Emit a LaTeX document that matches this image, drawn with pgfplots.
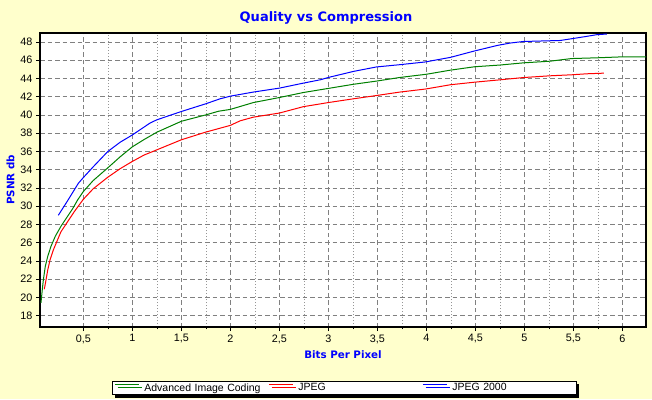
\documentclass[border=0pt]{standalone}
\usepackage{pgfplots}
\pgfplotsset{compat=1.18}
\usepackage{fontspec}
\setmainfont{Liberation Sans}
\newfontfamily\dejavu{DejaVu Sans}
\usetikzlibrary{shadows}
\definecolor{bgyellow}{RGB}{255,255,204}
\definecolor{cblue}{RGB}{0,0,255}
\definecolor{cgreen}{RGB}{0,128,0}
\definecolor{cred}{RGB}{255,0,0}
\definecolor{gridgray}{RGB}{128,128,128}
\definecolor{mingray}{RGB}{150,150,150}
\begin{document}
\begin{tikzpicture}[x=1pt,y=1pt]
\fill[bgyellow] (0,0) rectangle (652,399);
\useasboundingbox (0,0) rectangle (652,399);
\node[font={\dejavu\bfseries\fontsize{13}{15}\selectfont}, text=cblue] at (326,381.5) {Quality vs Compression};
\begin{axis}[
  at={(40pt,72pt)}, anchor=south west,
  scale only axis, width=606pt, height=294pt,
  xmin=0.058, xmax=6.24, ymin=16.76, ymax=48.97,
  axis background/.style={fill=white},
  axis line style={line width=2pt, black},
  xtick={0.5,1,1.5,2,2.5,3,3.5,4,4.5,5,5.5,6},
  ytick={18,20,...,48},
  minor x tick num=1,
  xmajorgrids, ymajorgrids, xminorgrids,
  major grid style={gridgray, line width=0.6pt, dash pattern=on 4.5pt off 3pt},
  minor grid style={mingray, line width=0.6pt, dash pattern=on 1pt off 2pt},
  tick align=outside, xtick pos=left, ytick pos=left,
  major tick length=4pt, minor tick length=2pt,
  tick style={black, line width=0.6pt},
  tick label style={font=\fontsize{10.8}{12}\selectfont},
  /pgf/number format/.cd, use comma, 1000 sep={}, assume math mode=true,
  /pgfplots/.cd,
  xlabel={Bits Per Pixel},
  ylabel={PSNR db},
  ylabel style={yshift=-1pt},
  label style={font={\dejavu\bfseries\fontsize{10.3}{12}\selectfont}, text=cblue},
  legend columns=3,
  legend image code/.code={\draw[#1, line width=1pt] (0pt,3.7pt) -- (24pt,3.7pt);},
  legend style={at={(axis description cs:0.1188,-0.1837)}, anchor=north west,
    draw=black, line width=0.8pt, fill=white, inner xsep=2pt, inner ysep=1pt,
    column sep=2.5pt,
    drop shadow={shadow xshift=3pt, shadow yshift=-3pt, fill=black, opacity=1},
    font=\fontsize{10.5}{12}\selectfont,
    nodes={inner xsep=2.5pt, inner ysep=1pt, text width=119pt, align=left}},
  legend cell align=left,
]
\addplot[cgreen, line width=1pt] coordinates {
(0.068,19.4) (0.079,20.6) (0.092,21.9) (0.112,23.4) (0.137,24.5) (0.17,25.6)
(0.214,26.7) (0.272,27.8) (0.34,28.9) (0.39,29.7) (0.443,30.7) (0.5,31.6)
(0.6,32.8) (0.75,34.2) (0.875,35.4) (1.0,36.5) (1.12,37.3) (1.25,38.1)
(1.5,39.3) (1.75,40.0) (1.88,40.4) (2.0,40.6) (2.235,41.35) (2.5,41.9)
(2.745,42.45) (3.0,42.9) (3.255,43.35) (3.49,43.7) (3.73,44.1) (4.0,44.45)
(4.245,44.9) (4.49,45.27) (4.75,45.46) (4.99,45.7) (5.26,45.88) (5.48,46.17)
(5.735,46.25) (5.98,46.35) (6.3,46.37)
};
\addlegendentry{Advanced Image Coding}
\addplot[cred, line width=1pt] coordinates {
(0.102,20.9) (0.119,21.9) (0.137,23.0) (0.16,24.1) (0.194,25.2) (0.229,26.1)
(0.272,27.2) (0.34,28.3) (0.408,29.4) (0.5,30.75) (0.6,31.9) (0.75,33.17)
(0.875,34.1) (1.0,34.9) (1.12,35.6) (1.25,36.17) (1.5,37.27) (1.745,38.1)
(2.0,38.85) (2.1,39.35) (2.235,39.75) (2.5,40.2) (2.745,40.9) (3.0,41.35)
(3.255,41.76) (3.49,42.12) (3.73,42.5) (3.99,42.83) (4.245,43.3) (4.49,43.58)
(4.75,43.84) (4.99,44.09) (5.26,44.28) (5.48,44.39) (5.635,44.5) (5.81,44.57)
};
\addlegendentry{JPEG}
\addplot[cblue, line width=1pt] coordinates {
(0.245,29.0) (0.34,30.6) (0.449,32.5) (0.5,33.13) (0.6,34.3) (0.749,35.98)
(0.875,37.0) (1.0,37.8) (1.18,39.1) (1.25,39.46) (1.5,40.37) (1.745,41.2)
(1.895,41.76) (2.0,42.05) (2.235,42.5) (2.5,42.93) (2.745,43.48) (2.92,43.85)
(3.0,44.1) (3.255,44.76) (3.49,45.25) (3.73,45.5) (3.99,45.8) (4.245,46.3)
(4.49,47.0) (4.72,47.6) (4.855,47.87) (4.99,48.04) (5.365,48.15) (5.48,48.34)
(5.635,48.6) (5.735,48.78) (5.84,48.86)
};
\addlegendentry{JPEG 2000}
\end{axis}
\end{tikzpicture}
\end{document}
